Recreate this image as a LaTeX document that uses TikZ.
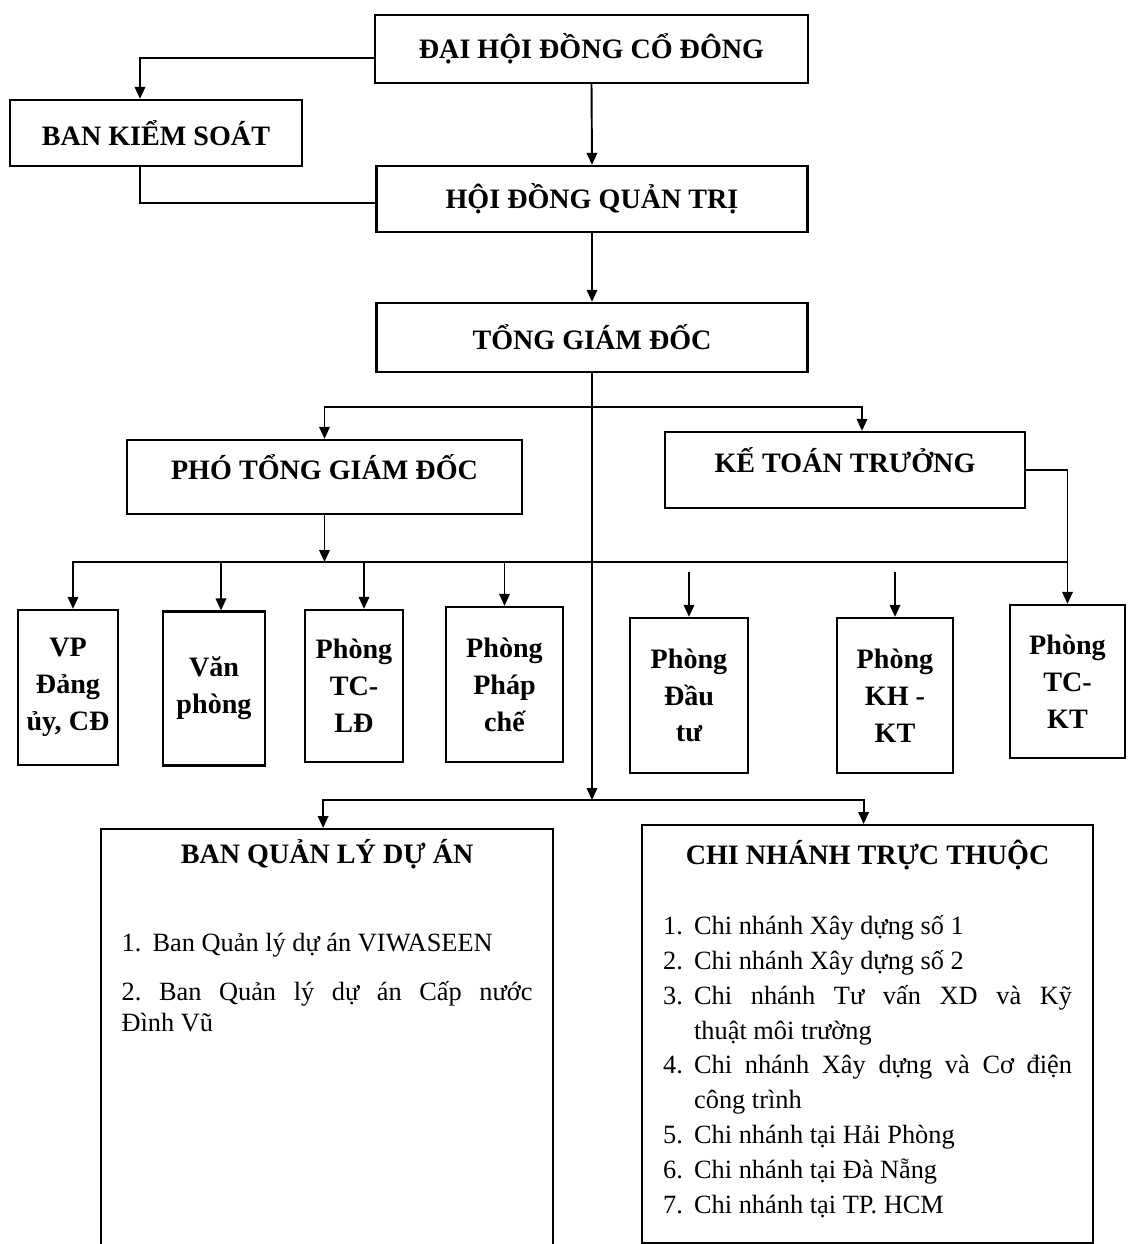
\documentclass[tikz,border=0pt]{standalone}
\usepackage{fontspec}
\setmainfont{Liberation Serif}
\usepackage{tikz}
\usetikzlibrary{arrows.meta,positioning,calc}
\newcommand{\ttl}{\fontsize{16}{19}\selectfont\bfseries}
\newcommand{\bdy}{\fontsize{15}{19.8}\selectfont}
\newcommand{\num}[1]{\makebox[0.62cm][l]{#1}}
\frenchspacing

\begin{document}
\begin{tikzpicture}[x=0.02cm,y=-0.02cm,
  box/.style={draw,line width=1.3pt,align=center,font=\ttl,inner sep=2pt,
     minimum width=#1},
  box/.default=8.62cm,
  upper/.style={text height=0.4cm,text depth=0.3cm},
  unit/.style={draw,line width=1.3pt,align=center,inner sep=2pt,
     font=\fontsize{16}{21}\selectfont\bfseries,minimum height=3.08cm,minimum width=#1},
  unit/.default=2.3cm,
  listbox/.style={draw,line width=1.3pt,anchor=north west,inner xsep=0.41cm,inner ysep=0.2cm},
  arr/.style={-{Triangle[length=2.4mm,width=2.1mm]},line width=1.1pt},
  line/.style={line width=1.1pt}]
\useasboundingbox (0,0) rectangle (1134,1244);
% top levels
\node[box=8.66cm,minimum height=1.36cm] (dhdcd) at (591.5,49) {ĐẠI HỘI ĐỒNG CỔ ĐÔNG};
\node[box=5.84cm,minimum height=1.32cm] (bks) at (156,133) {BAN KIỂM SOÁT};
\node[box,minimum height=1.32cm] (hdqt) at (592,199) {HỘI ĐỒNG QUẢN TRỊ};
\node[box,minimum height=1.38cm] (tgd) at (592,337.5) {TỔNG GIÁM ĐỐC};
\node[box=7.9cm,upper,minimum height=1.48cm] (ptgd) at (324.5,477) {PHÓ TỔNG GIÁM ĐỐC};
\node[box=7.2cm,upper,minimum height=1.52cm] (ktt) at (845,470) {KẾ TOÁN TRƯỞNG};
% departments
\node[unit=2.0cm,minimum height=3.1cm] (vp) at (68,687.5) {VP\\ Đảng\\ ủy, CĐ};
\node[unit=2.04cm] (vanp) at (214,688.5) {Văn\\ phòng};
\node[unit=1.96cm,minimum height=3.04cm] (tcld) at (354,686) {Phòng\\ TC-\\ LĐ};
\node[unit=2.34cm,minimum height=3.1cm] (phapche) at (504.5,684.5) {Phòng\\ Pháp\\ chế};
\node[unit=2.36cm,minimum height=3.1cm] (dautu) at (689,695.5) {Phòng\\ Đầu\\ tư};
\node[unit=2.32cm,minimum height=3.1cm] (khkt) at (895,695.5) {Phòng\\ KH -\\ KT};
\node[unit=2.3cm,minimum height=3.06cm] (tckt) at (1067.5,681.5) {Phòng\\ TC-\\ KT};
% project boards and branches
\node[listbox] (bqlda) at (100,828) {\parbox[t][8.24cm][t]{8.22cm}{\bdy\hyphenpenalty=10000
  \fontsize{15}{18}\selectfont\parskip=10pt
  {\centering\ttl BAN QUẢN LÝ DỰ ÁN\par}
  \vspace{22pt}
  \num{1.}Ban Quản lý dự án VIWASEEN\par
  2. Ban Quản lý dự án Cấp nước\linebreak Đình Vũ\par}};
\node[listbox,inner xsep=0.42cm] (cntt) at (641,824) {\parbox[t][7.96cm][t]{8.18cm}{\bdy\hyphenpenalty=10000
  \vspace*{3pt}
  {\centering\ttl CHI NHÁNH TRỰC THUỘC\par}
  \vspace{20pt}
  \hangindent=0.62cm\hangafter=1\num{1.}Chi nhánh Xây dựng số 1\par
  \hangindent=0.62cm\hangafter=1\num{2.}Chi nhánh Xây dựng số 2\par
  \hangindent=0.62cm\hangafter=1\num{3.}Chi nhánh Tư vấn XD và Kỹ\linebreak thuật môi trường\par
  \hangindent=0.62cm\hangafter=1\num{4.}Chi nhánh Xây dựng và Cơ điện\linebreak công trình\par
  \hangindent=0.62cm\hangafter=1\num{5.}Chi nhánh tại Hải Phòng\par
  \hangindent=0.62cm\hangafter=1\num{6.}Chi nhánh tại Đà Nẵng\par
  \hangindent=0.62cm\hangafter=1\num{7.}Chi nhánh tại TP. HCM\par}};
% junctions
\coordinate (ju) at (592,407);
\coordinate (jp) at (324.5,562);
\coordinate (jb) at (592,800);
% connectors
\draw[arr] ($(dhdcd.west)+(0,9)$) -| ($(bks.north)+(-16,0)$);
\draw[line] ($(bks.south)+(-16,0)$) |- ($(hdqt.west)+(0,4)$);
\draw[arr] (dhdcd.south) -- (hdqt.north);
\draw[arr] (hdqt.south) -- (tgd.north);
\draw[arr] (tgd.south) -- (jb);
\draw[arr] (ju) -| (ptgd.north);
\draw[arr] (ju) -| ($(ktt.north)+(17,0)$);
\draw[arr] (ptgd.south) -- (jp);
\draw[arr] (jp) -| ($(vp.north)+(5,0)$);
\draw[line] (jp) -- (jp -| tckt.north);
\draw[arr] ($(jp -| vanp.north)+(7,0)$) -- ($(vanp.north)+(7,0)$);
\draw[arr] ($(jp -| tcld.north)+(10,0)$) -- ($(tcld.north)+(10,0)$);
\draw[arr] (jp -| phapche.north) -- (phapche.north);
\draw[arr] ($(jp -| dautu.north)+(0,10)$) -- (dautu.north);
\draw[arr] ($(jp -| khkt.north)+(0,10)$) -- (khkt.north);
\draw[arr] (ktt.east) -| (tckt.north);
\draw[arr] (jb) -| ($(bqlda.north)+(-4,0)$);
\draw[arr] (jb) -| ($(cntt.north)+(-4,0)$);
\end{tikzpicture}
\end{document}
